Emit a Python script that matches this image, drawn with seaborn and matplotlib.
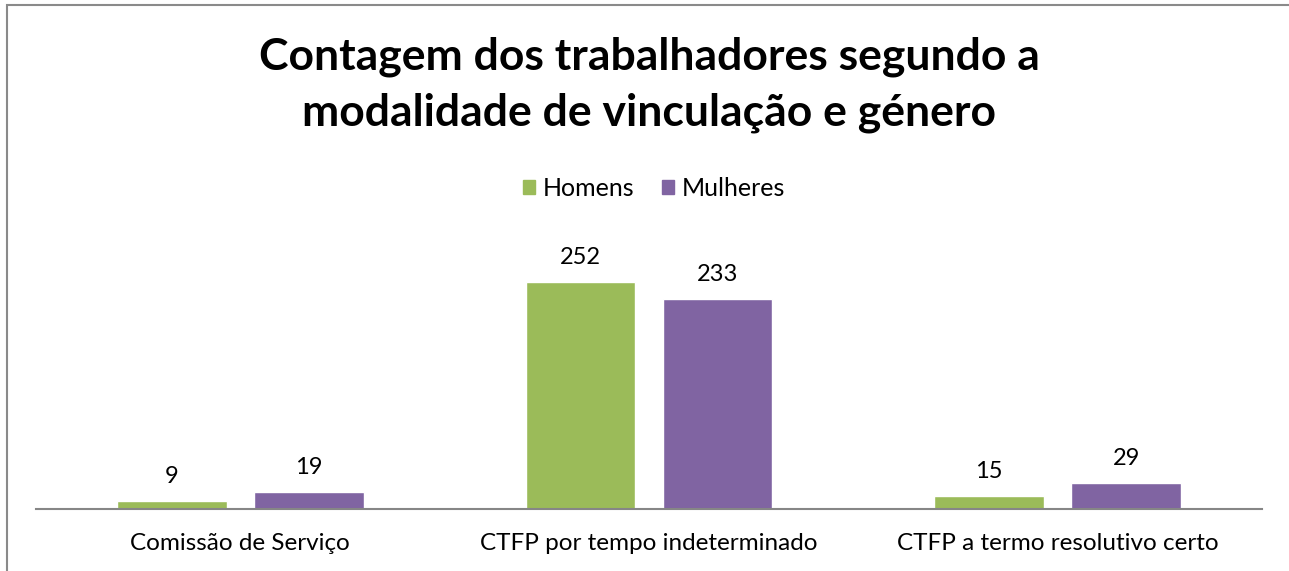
import numpy as np
import pandas as pd
import matplotlib
matplotlib.use('Agg')
import matplotlib.pyplot as plt
from matplotlib.patches import Rectangle
import seaborn as sns

categorias = ['Comissão de Serviço', 'CTFP por tempo indeterminado', 'CTFP a termo resolutivo certo']
homens = [9, 252, 15]
mulheres = [19, 233, 29]
generos = ['Homens', 'Mulheres']
cores = ['#9BBB59', '#8064A2']

df = pd.DataFrame({
    'categoria': categorias * 2,
    'genero': ['Homens'] * 3 + ['Mulheres'] * 3,
    'valor': homens + mulheres,
})

sns.set_style('white')
plt.rcParams['font.family'] = ['Lato', 'DejaVu Sans']

W, H = 1289, 571
fig = plt.figure(figsize=(W / 100, H / 100), dpi=100)
ax = fig.add_axes([36 / W, 62 / H, (1262 - 36) / W, 270 / H])

sns.barplot(data=df, x='categoria', y='valor', hue='genero', palette=cores,
            hue_order=generos, order=categorias, width=0.67, gap=0.2,
            saturation=1, ax=ax, legend=False)

for cont in ax.containers:
    ax.bar_label(cont, padding=10, fontsize=17, color='#000000')

ax.set_ylim(0, 300)
ax.set_xlim(-0.5, 2.5)
ax.set_xlabel('')
ax.set_ylabel('')
ax.set_yticks([])
ax.tick_params(axis='x', length=0, labelsize=17.5, pad=17, colors='#000000')
for s in ['top', 'right', 'left']:
    ax.spines[s].set_visible(False)
ax.spines['bottom'].set_color('#868686')
ax.spines['bottom'].set_linewidth(1.5)

fig.text(649 / W, 1 - 57 / H, 'Contagem dos trabalhadores segundo a', ha='center', va='center',
         fontsize=32, fontweight='bold', color='#000000')
fig.text(649 / W, 1 - 113 / H, 'modalidade de vinculação e género', ha='center', va='center',
         fontsize=32, fontweight='bold', color='#000000')

handles = [Rectangle((0, 0), 1, 1, color=c) for c in cores]
leg = fig.legend(handles, generos, loc='center', bbox_to_anchor=(654 / W, 1 - 188 / H), ncol=2,
                 frameon=False, fontsize=18, handlelength=0.5, handleheight=0.5,
                 handletextpad=0.3, columnspacing=1.1)
for t in leg.get_texts():
    t.set_color('#000000')

fig.add_artist(Rectangle((6.5 / W, -0.1), 1.2, 1 - 4.5 / H + 0.1, transform=fig.transFigure,
                         fill=False, edgecolor='#8a8a8a', linewidth=1.5))

fig.savefig('out.png', dpi=100)
